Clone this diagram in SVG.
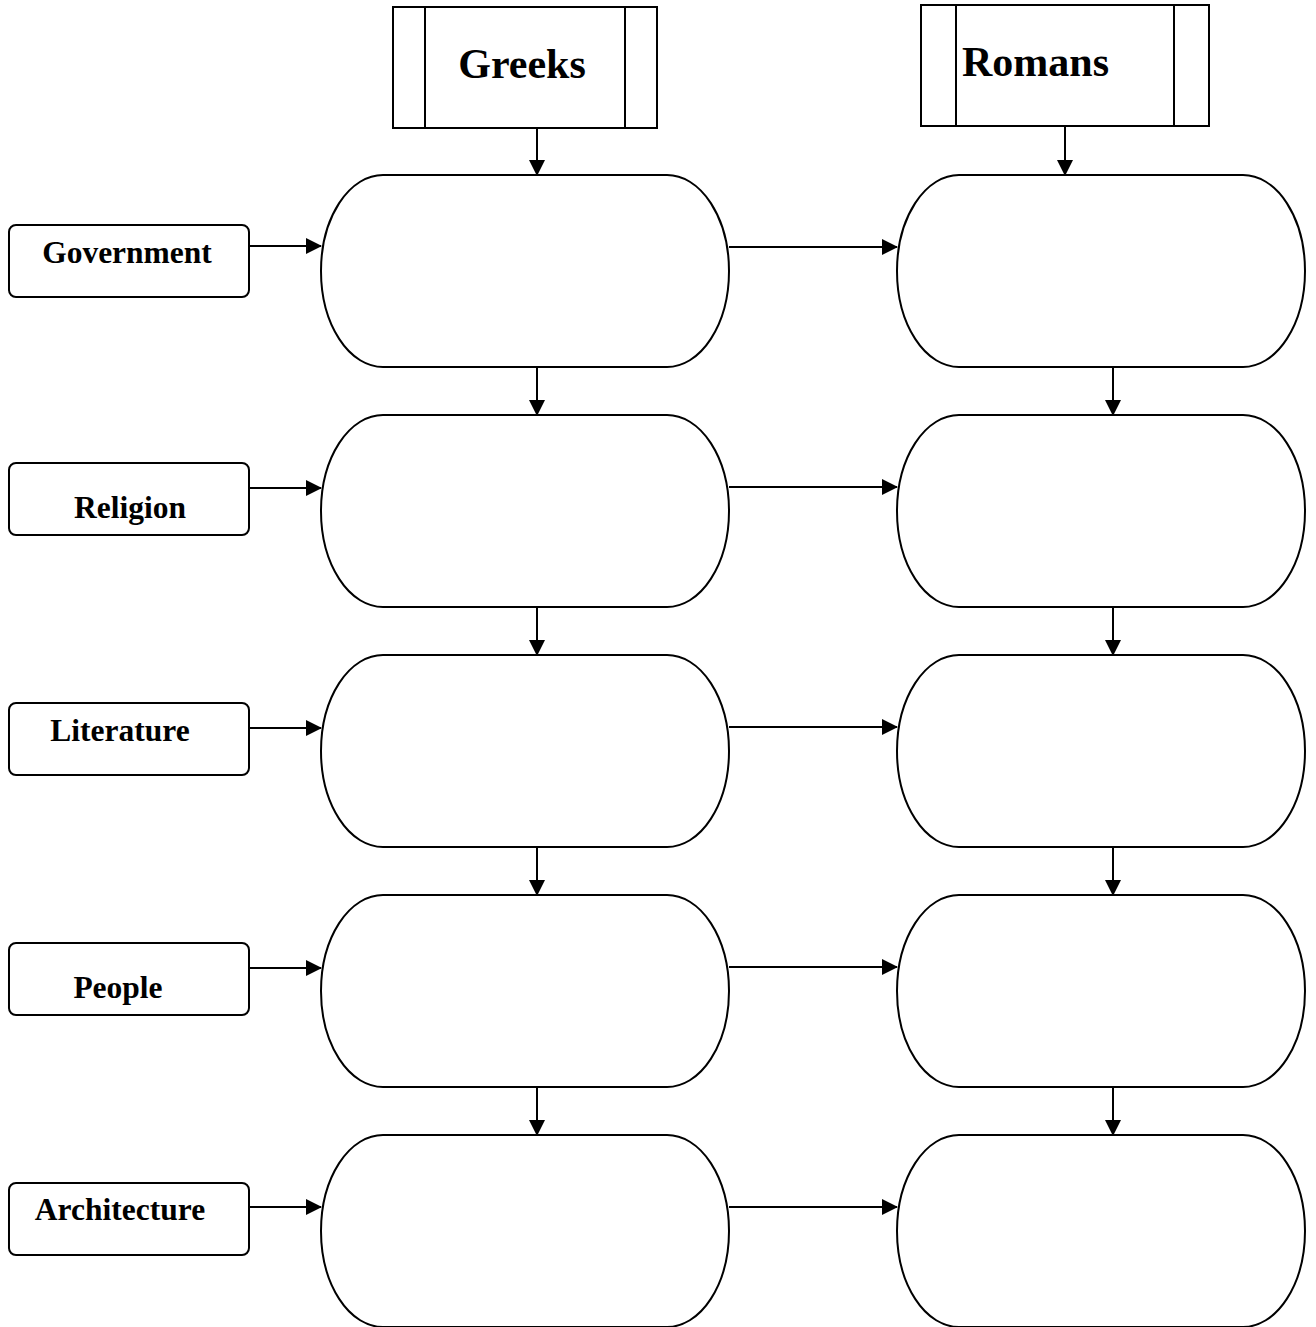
<svg xmlns="http://www.w3.org/2000/svg" width="1316" height="1327" viewBox="0 0 1316 1327">
<style>
.s{fill:#fff;stroke:#000;stroke-width:2}
.c{fill:none;stroke:#000;stroke-width:2;marker-end:url(#ah)}
.h{font-family:"Liberation Serif","Times New Roman",serif;font-weight:bold;font-size:42px;fill:#000}
.t{font-family:"Liberation Serif","Times New Roman",serif;font-weight:bold;font-size:31.5px;fill:#000}
</style>
<defs>
<marker id="ah" markerWidth="16" markerHeight="16" refX="15" refY="8" orient="auto" markerUnits="userSpaceOnUse">
<path d="M0,0 L16,8 L0,16 Z" fill="#000"/>
</marker>
</defs>
<rect width="1316" height="1327" fill="#fff"/>
<g id="connectors">
<line class="c" x1="537" y1="128" x2="537" y2="175"/>
<line class="c" x1="1065" y1="126" x2="1065" y2="175"/>
<line class="c" x1="537" y1="367" x2="537" y2="415"/>
<line class="c" x1="537" y1="607" x2="537" y2="655"/>
<line class="c" x1="537" y1="847" x2="537" y2="895"/>
<line class="c" x1="537" y1="1087" x2="537" y2="1135"/>
<line class="c" x1="1113" y1="367" x2="1113" y2="415"/>
<line class="c" x1="1113" y1="607" x2="1113" y2="655"/>
<line class="c" x1="1113" y1="847" x2="1113" y2="895"/>
<line class="c" x1="1113" y1="1087" x2="1113" y2="1135"/>
<line class="c" x1="249" y1="246" x2="321" y2="246"/>
<line class="c" x1="249" y1="488" x2="321" y2="488"/>
<line class="c" x1="249" y1="728" x2="321" y2="728"/>
<line class="c" x1="249" y1="968" x2="321" y2="968"/>
<line class="c" x1="249" y1="1207" x2="321" y2="1207"/>
<line class="c" x1="729" y1="247" x2="897" y2="247"/>
<line class="c" x1="729" y1="487" x2="897" y2="487"/>
<line class="c" x1="729" y1="727" x2="897" y2="727"/>
<line class="c" x1="729" y1="967" x2="897" y2="967"/>
<line class="c" x1="729" y1="1207" x2="897" y2="1207"/>
</g>
<g id="greeks">
<rect class="s" x="393" y="7" width="264" height="121"/>
<line x1="425" y1="7" x2="425" y2="128" stroke="#000" stroke-width="2"/>
<line x1="625" y1="7" x2="625" y2="128" stroke="#000" stroke-width="2"/>
<text class="h" x="522" y="78" text-anchor="middle">Greeks</text>
</g>
<g id="romans">
<rect class="s" x="921" y="5" width="288" height="121"/>
<line x1="956" y1="5" x2="956" y2="126" stroke="#000" stroke-width="2"/>
<line x1="1174" y1="5" x2="1174" y2="126" stroke="#000" stroke-width="2"/>
<text class="h" x="962" y="76">Romans</text>
</g>
<g id="label-government"><rect class="s" x="9" y="225" width="240" height="72" rx="7"/><text class="t" x="127" y="263" text-anchor="middle">Government</text></g>
<g id="label-religion"><rect class="s" x="9" y="463" width="240" height="72" rx="7"/><text class="t" x="130" y="518" text-anchor="middle">Religion</text></g>
<g id="label-literature"><rect class="s" x="9" y="703" width="240" height="72" rx="7"/><text class="t" x="120" y="741" text-anchor="middle">Literature</text></g>
<g id="label-people"><rect class="s" x="9" y="943" width="240" height="72" rx="7"/><text class="t" x="118" y="998" text-anchor="middle">People</text></g>
<g id="label-architecture"><rect class="s" x="9" y="1183" width="240" height="72" rx="7"/><text class="t" x="120" y="1220" text-anchor="middle">Architecture</text></g>
<g id="greek-1"><rect class="s" x="321" y="175" width="408" height="192" rx="62" ry="96"/></g>
<g id="greek-2"><rect class="s" x="321" y="415" width="408" height="192" rx="62" ry="96"/></g>
<g id="greek-3"><rect class="s" x="321" y="655" width="408" height="192" rx="62" ry="96"/></g>
<g id="greek-4"><rect class="s" x="321" y="895" width="408" height="192" rx="62" ry="96"/></g>
<g id="greek-5"><rect class="s" x="321" y="1135" width="408" height="192" rx="62" ry="96"/></g>
<g id="roman-1"><rect class="s" x="897" y="175" width="408" height="192" rx="62" ry="96"/></g>
<g id="roman-2"><rect class="s" x="897" y="415" width="408" height="192" rx="62" ry="96"/></g>
<g id="roman-3"><rect class="s" x="897" y="655" width="408" height="192" rx="62" ry="96"/></g>
<g id="roman-4"><rect class="s" x="897" y="895" width="408" height="192" rx="62" ry="96"/></g>
<g id="roman-5"><rect class="s" x="897" y="1135" width="408" height="192" rx="62" ry="96"/></g>
</svg>
